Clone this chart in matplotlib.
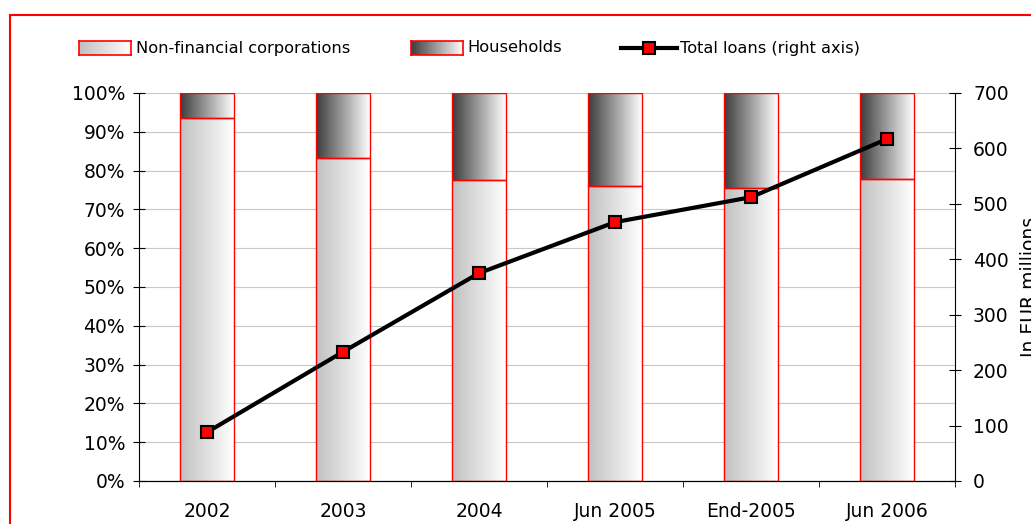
import numpy as np
import matplotlib.pyplot as plt
from matplotlib.colors import LinearSegmentedColormap
from matplotlib.patches import Rectangle
from matplotlib.lines import Line2D

# data
categories = ['2002', '2003', '2004', 'Jun 2005', 'End-2005', 'Jun 2006']
nonfin = [93.5, 83.2, 77.6, 76.0, 75.5, 77.8]          # % share
households = [100 - v for v in nonfin]                 # % share
total_loans = [88, 233, 375, 467, 512, 617]            # EUR millions

plt.rcParams['font.family'] = 'DejaVu Sans'
plt.rcParams['font.size'] = 13.5

W, H = 1031, 524
fig = plt.figure(figsize=(W / 100, H / 100), dpi=100)
ax = fig.add_axes([139 / W, 1 - 481 / H, (955 - 139) / W, (481 - 93) / H])

x = np.arange(len(categories))
width = 0.39

light = LinearSegmentedColormap.from_list('light', ['#c0c0c0', '#ffffff'])
dark = LinearSegmentedColormap.from_list('dark', ['#3c3c3c', '#ffffff'])
grad = np.linspace(0, 1, 256).reshape(1, -1)


def gradient_fill(bars, cmap):
    for b in bars:
        x0, y0 = b.get_x(), b.get_y()
        im = ax.imshow(grad, cmap=cmap, aspect='auto', zorder=2,
                       extent=[x0, x0 + b.get_width(), y0, y0 + b.get_height()])
        im.set_clip_path(b)


b1 = ax.bar(x, nonfin, width, facecolor='none', edgecolor='red', linewidth=1, zorder=3)
b2 = ax.bar(x, households, width, bottom=nonfin, facecolor='none', edgecolor='red',
            linewidth=1, zorder=3)
gradient_fill(b1, light)
gradient_fill(b2, dark)

ax.set_xlim(-0.5, len(categories) - 0.5)
ax.set_ylim(0, 100)
ax.set_xticks(x)
ax.set_xticklabels(categories)
ax.set_xticks(np.arange(-0.5, len(categories)), minor=True)
ax.tick_params(axis='x', which='major', length=0, pad=15)
ax.tick_params(axis='x', which='minor', length=4.5, direction='out')
ax.set_yticks(range(0, 101, 10))
ax.set_yticklabels([f'{v}%' for v in range(0, 101, 10)])
ax.tick_params(axis='y', direction='inout', length=8, pad=6)
ax.yaxis.grid(True, color='#c8c8c8', linewidth=0.8)
ax.set_axisbelow(True)
ax.spines['top'].set_visible(False)
ax.spines['right'].set_visible(False)

ax2 = ax.twinx()
ax2.plot(x, total_loans, color='black', linewidth=3, marker='s', markersize=9,
         markerfacecolor='red', markeredgecolor='black', markeredgewidth=1.5)
ax2.set_ylim(0, 700)
ax2.set_yticks(range(0, 701, 100))
ax2.tick_params(axis='y', direction='inout', length=8, pad=9)
ax2.spines['top'].set_visible(False)
ax2.spines['left'].set_visible(False)
fig.text(1020 / W, 1 - 287 / H, 'In EUR millions', rotation=90, ha='left', va='center')

# legend
leg_y = 1 - 48 / H
leg_fs = 11.7


def swatch(x0, cmap):
    a = fig.add_axes([x0 / W, 1 - 55 / H, 52 / W, 14 / H])
    a.imshow(grad, cmap=cmap, aspect='auto')
    a.set_xticks([])
    a.set_yticks([])
    for s in a.spines.values():
        s.set_color('red')
        s.set_linewidth(1.2)


swatch(79, light)
fig.text(136 / W, leg_y, 'Non-financial corporations', va='center', fontsize=leg_fs)
swatch(411, dark)
fig.text(467 / W, leg_y, 'Households', va='center', fontsize=leg_fs)
fig.add_artist(Line2D([621 / W, 677 / W], [leg_y] * 2, transform=fig.transFigure,
                      color='black', linewidth=3))
fig.add_artist(Line2D([649 / W], [leg_y], transform=fig.transFigure, marker='s',
                      markersize=9, markerfacecolor='red', markeredgecolor='black',
                      markeredgewidth=1.5))
fig.text(680 / W, leg_y, 'Total loans (right axis)', va='center', fontsize=leg_fs)

# outer frame (cut off at right and bottom)
fig.add_artist(Rectangle((9.5 / W, -0.1), 1.2, (H - 15) / H + 0.1, transform=fig.transFigure,
                         fill=False, edgecolor='red', linewidth=1.5))

fig.savefig('out.png', dpi=100)
